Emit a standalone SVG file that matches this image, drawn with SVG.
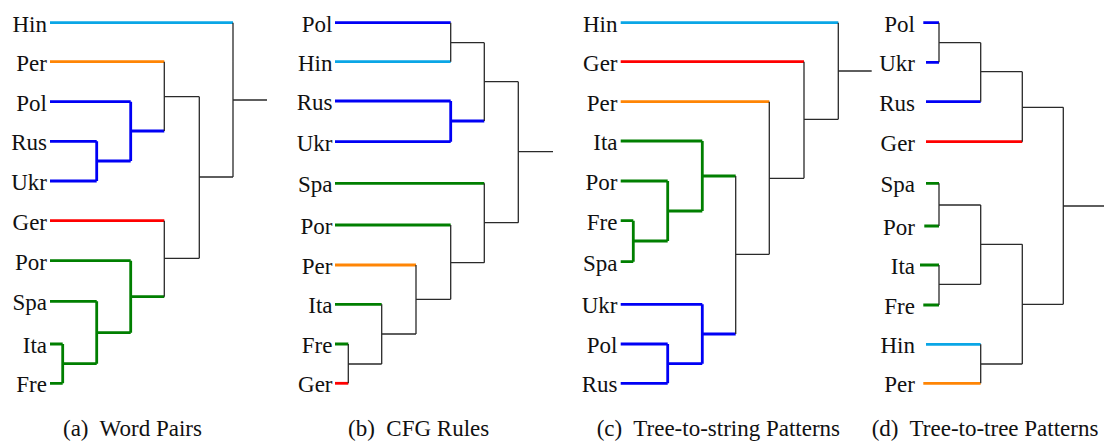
<svg xmlns="http://www.w3.org/2000/svg" width="1106" height="441" viewBox="0 0 1106 441" font-family="'Liberation Serif', 'DejaVu Serif', 'Noto Serif', serif">
<style>
text{font-family:'Liberation Serif','Times New Roman','DejaVu Serif',serif;font-size:23px;fill:#111}
.lbl{text-anchor:end}
path{fill:none;stroke-linecap:butt}
.k{stroke:#2a2a2a;stroke-width:1.3}
.c{stroke:#0aa6e6;stroke-width:2.8}
.o{stroke:#ff8505;stroke-width:2.8}
.b{stroke:#0000f5;stroke-width:2.8}
.r{stroke:#ff0000;stroke-width:2.8}
.g{stroke:#007f00;stroke-width:2.8}
</style>
<rect width="1106" height="441" fill="#fff"/>

<!-- Panel (a) -->
<g id="panel-a-nodes">
<g id="a-Hin"><text class="lbl" x="47" y="31.7">Hin</text></g>
<g id="a-Per"><text class="lbl" x="47" y="70.5">Per</text></g>
<g id="a-Pol"><text class="lbl" x="47" y="110.5">Pol</text></g>
<g id="a-Rus"><text class="lbl" x="47" y="150.2">Rus</text></g>
<g id="a-Ukr"><text class="lbl" x="47" y="190">Ukr</text></g>
<g id="a-Ger"><text class="lbl" x="47" y="229.5">Ger</text></g>
<g id="a-Por"><text class="lbl" x="47" y="269.5">Por</text></g>
<g id="a-Spa"><text class="lbl" x="47" y="310">Spa</text></g>
<g id="a-Ita"><text class="lbl" x="47" y="353">Ita</text></g>
<g id="a-Fre"><text class="lbl" x="47" y="392.2">Fre</text></g>
</g>
<g id="panel-a-connectors">
<path class="c" d="M50 22.7H233"/>
<path class="o" d="M50 61.7H164.3"/>
<path class="b" d="M50 101.7H130.7M50 141.3H96.7M50 181H96.7M96.7 141.3V181M96.7 161H130.7M130.7 101.7V161M130.7 131H164.3"/>
<path class="r" d="M50 220.7H164.3"/>
<path class="g" d="M50 260.7H130.7M50 301.3H96.7M50 344H62.7M50 383.3H62.7M62.7 344V383.3M62.7 363.7H96.7M96.7 301.3V363.7M96.7 332.7H130.7M130.7 260.7V332.7M130.7 296.7H164.3"/>
<path class="k" d="M164.3 61.7V131M164.3 96.7H199.3M199.3 96.7V258.3M199.3 177H233M233 22.7V177M233 100H267M164.3 220.7V296.7M164.3 258.3H199.3"/>
</g>
<text id="cap-a" x="63" y="436">(a)&#160; Word Pairs</text>

<!-- Panel (b) -->
<g id="panel-b-nodes">
<g id="b-Pol"><text class="lbl" x="332.5" y="31.7">Pol</text></g>
<g id="b-Hin"><text class="lbl" x="332.5" y="70.7">Hin</text></g>
<g id="b-Rus"><text class="lbl" x="332.5" y="110">Rus</text></g>
<g id="b-Ukr"><text class="lbl" x="332.5" y="150.7">Ukr</text></g>
<g id="b-Spa"><text class="lbl" x="332.5" y="192.3">Spa</text></g>
<g id="b-Por"><text class="lbl" x="332.5" y="234">Por</text></g>
<g id="b-Per"><text class="lbl" x="332.5" y="274">Per</text></g>
<g id="b-Ita"><text class="lbl" x="332.5" y="313.3">Ita</text></g>
<g id="b-Fre"><text class="lbl" x="332.5" y="353">Fre</text></g>
<g id="b-Ger"><text class="lbl" x="332.5" y="392.3">Ger</text></g>
</g>
<g id="panel-b-connectors">
<path class="c" d="M335 61.7H450.7"/>
<path class="b" d="M335 22.7H450.7M335 101H450.7M335 141.7H450.7M450.7 101V141.7M450.7 121H484.3"/>
<path class="g" d="M335 183.3H484.3M335 225H450.7M335 304.3H381.7M335 344H348.3"/>
<path class="o" d="M335 265H416"/>
<path class="r" d="M335 383.3H348.3"/>
<path class="k" d="M450.7 22.7V61.7M450.7 42.7H484.3M484.3 42.7V121M484.3 81.7H518.3M518.3 81.7V222.7M518.3 151.7H553M484.3 183.3V262.7M484.3 222.7H518.3M450.7 225V299.3M450.7 262.7H484.3M416 265V334M416 299.3H450.7M381.7 304.3V364M381.7 334H416M348.3 344V383.3M348.3 364H381.7"/>
</g>
<text id="cap-b" x="348" y="436">(b)&#160; CFG Rules</text>

<!-- Panel (c) -->
<g id="panel-c-nodes">
<g id="c-Hin"><text class="lbl" x="617.5" y="31.7">Hin</text></g>
<g id="c-Ger"><text class="lbl" x="617.5" y="70.7">Ger</text></g>
<g id="c-Per"><text class="lbl" x="617.5" y="110.5">Per</text></g>
<g id="c-Ita"><text class="lbl" x="617.5" y="150">Ita</text></g>
<g id="c-Por"><text class="lbl" x="617.5" y="190">Por</text></g>
<g id="c-Fre"><text class="lbl" x="617.5" y="229.5">Fre</text></g>
<g id="c-Spa"><text class="lbl" x="617.5" y="270.5">Spa</text></g>
<g id="c-Ukr"><text class="lbl" x="617.5" y="313.3">Ukr</text></g>
<g id="c-Pol"><text class="lbl" x="617.5" y="353">Pol</text></g>
<g id="c-Rus"><text class="lbl" x="617.5" y="392.3">Rus</text></g>
</g>
<g id="panel-c-connectors">
<path class="c" d="M620.7 22.7H838.3"/>
<path class="r" d="M620.7 61.7H804"/>
<path class="o" d="M620.7 101.7H769.3"/>
<path class="g" d="M620.7 141H702.3M620.7 181H667.7M620.7 220.7H633.3M620.7 261.7H633.3M633.3 220.7V261.7M633.3 241H667.7M667.7 181V241M667.7 211H702.3M702.3 141V211M702.3 176H735.7"/>
<path class="b" d="M620.7 304.3H702.3M620.7 344H667.7M620.7 383.3H667.7M667.7 344V383.3M667.7 363.7H702.3M702.3 304.3V363.7M702.3 334H735.7"/>
<path class="k" d="M735.7 176V334M735.7 254.3H769.3M769.3 101.7V254.3M769.3 178.3H804M804 61.7V178.3M804 119.3H838.3M838.3 22.7V119.3M838.3 71H871.7"/>
</g>
<text id="cap-c" x="596.7" y="436">(c)&#160; Tree-to-string Patterns</text>

<!-- Panel (d) -->
<g id="panel-d-nodes">
<g id="d-Pol"><text class="lbl" x="915" y="31.7">Pol</text></g>
<g id="d-Ukr"><text class="lbl" x="915" y="71.3">Ukr</text></g>
<g id="d-Rus"><text class="lbl" x="915" y="110.5">Rus</text></g>
<g id="d-Ger"><text class="lbl" x="915" y="150.5">Ger</text></g>
<g id="d-Spa"><text class="lbl" x="915" y="192.3">Spa</text></g>
<g id="d-Por"><text class="lbl" x="915" y="235">Por</text></g>
<g id="d-Ita"><text class="lbl" x="915" y="274">Ita</text></g>
<g id="d-Fre"><text class="lbl" x="915" y="314">Fre</text></g>
<g id="d-Hin"><text class="lbl" x="915" y="353.3">Hin</text></g>
<g id="d-Per"><text class="lbl" x="915" y="392.3">Per</text></g>
</g>
<g id="panel-d-connectors">
<path class="b" d="M923.3 22.7H939M926 62.3H939M926 101.7H980.7"/>
<path class="r" d="M926 141.7H1022.3"/>
<path class="g" d="M926 183.3H939M924.3 226H939M920 265H939M923.3 305H939"/>
<path class="c" d="M926 344.3H980.7"/>
<path class="o" d="M923.3 383.3H980.7"/>
<path class="k" d="M939 22.7V62.3M939 42.7H980.7M980.7 42.7V101.7M980.7 71.7H1022.3M1022.3 71.7V141.7M1022.3 107.3H1063.3M1063.3 107.3V304.3M1063.3 206H1104M939 183.3V226M939 205H980.7M939 265V305M939 284.3H980.7M980.7 205V284.3M980.7 244.3H1022.3M980.7 344.3V383.3M980.7 364H1022.3M1022.3 244.3V364M1022.3 304.3H1063.3"/>
</g>
<text id="cap-d" x="871.7" y="436">(d)&#160; Tree-to-tree Patterns</text>
</svg>
